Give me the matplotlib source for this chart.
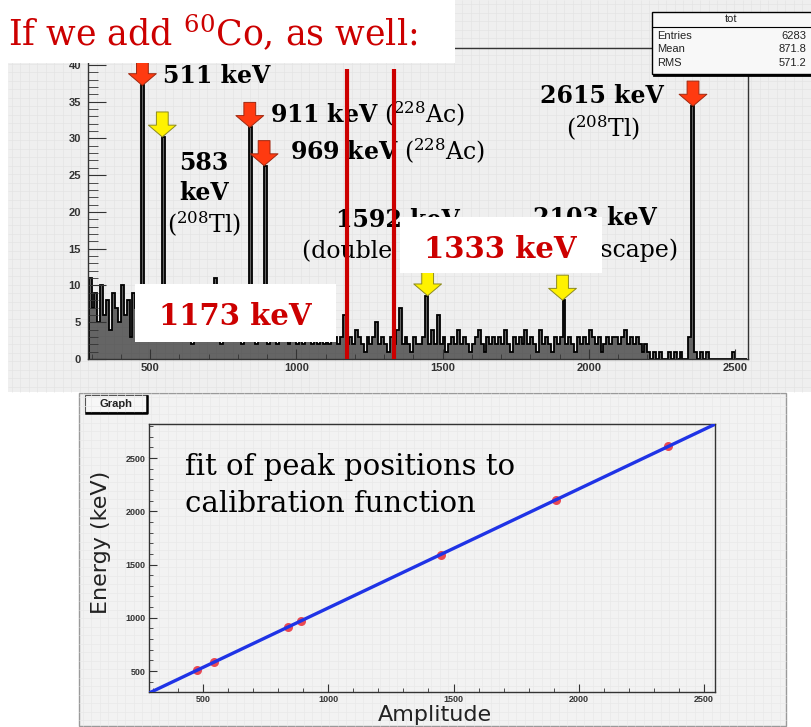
import matplotlib
matplotlib.use("Agg")

import  matplotlib.pyplot   as  plt
import  numpy               as  np
from    matplotlib.patches  import  Rectangle
from    matplotlib.ticker   import  MultipleLocator


##############################################################
###------------------------data----------------------------###
##############################################################

###-----------peaks_used_for_the_calibration---------------###
peak_energy     =   [511, 583, 911, 969, 1592, 2103, 2615]
peak_amplitude  =   [474, 542, 841, 890, 1449, 1910, 2356]
peak_counts     =   [37.2, 30.2, 31.5, 26.3, 8.6, 8.0, 34.4]

###------------------60Co_gamma_lines----------------------###
co60_energy     =   [1173, 1333]

###--------------spectrum_background_(10_per_bin)----------###
bin_start       =   290
bin_width       =   10
background      =   [
    11, 7, 9, 5, 10, 6, 8, 4, 9, 7,
    5, 10, 6, 8, 3, 9, 7, 4, 8, 6,
    9, 4, 7, 5, 8, 3, 6, 9, 4, 7,
    5, 3, 7, 4, 6, 2, 5, 8, 3, 4,
    6, 3, 5, 11, 4, 2, 5, 3, 6, 4,
    3, 5, 2, 4, 6, 3, 4, 2, 5, 3,
    4, 2, 5, 3, 2, 4, 3, 5, 2, 3,
    3, 2, 4, 2, 3, 5, 2, 3, 2, 4,
    2, 3, 2, 4, 3, 2, 3, 6, 2, 3,
    2, 4, 3, 2, 1, 3, 2, 3, 5, 2,
    3, 2, 1, 3, 2, 4, 7, 2, 3, 2,
    1, 3, 2, 2, 3, 3, 2, 4, 2, 6,
    2, 3, 1, 2, 3, 2, 4, 2, 3, 2,
    1, 2, 3, 4, 2, 1, 3, 2, 3, 2,
    3, 2, 4, 2, 1, 3, 2, 3, 2, 4,
    2, 3, 2, 1, 4, 2, 3, 2, 1, 3,
    2, 3, 4, 2, 3, 2, 1, 3, 2, 3,
    2, 4, 3, 2, 3, 1, 2, 3, 2, 3,
    3, 2, 3, 4, 2, 3, 2, 3, 2, 1,
    2, 1, 0, 1, 0, 1, 0, 0, 1, 0,
    1, 0, 1, 0, 0, 3, 0, 1, 0, 1,
    0, 1, 0, 0, 0, 0, 0, 0, 0, 0,
    1, 0, 0, 0, 0,
]

###-----------------------stat_box-------------------------###
hist_name       =   "tot"
stat_names      =   ["Entries", "Mean", "RMS"]
stat_values     =   ["6283", "871.8", "571.2"]


##############################################################
###----------------------helpers---------------------------###
##############################################################
W, H    =   812, 727

def frame(x0, y0, x1, y1):
    # pixel box (top-left origin) -> figure fraction rectangle
    return [x0 / W, 1 - y1 / H, (x1 - x0) / W, (y1 - y0) / H]

def root_ticks(ax, size):
    ax.tick_params(axis="both", which="both", direction="in", top=False, right=False,
                   labelsize=size, colors="#333333")
    for lbl in ax.get_xticklabels() + ax.get_yticklabels():
        lbl.set_fontweight("bold")
        lbl.set_family("Liberation Sans")
    for sp in ax.spines.values():
        sp.set_color("#333333")
        sp.set_linewidth(1.0)


plt.rcParams["mathtext.fontset"] = "dejavuserif"
fig     =   plt.figure(figsize=(W / 100, H / 100), dpi=100, facecolor="white")

###-------------------panel_backgrounds--------------------###
ax_bg   =   fig.add_axes([0, 0, 1, 1])
ax_bg.set_xlim(0, W)
ax_bg.set_ylim(H, 0)
ax_bg.axis("off")
ax_bg.add_patch(Rectangle((8, 0), 804, 392, fc="#efefef", ec="none"))
ax_bg.vlines(np.arange(12, 812, 8.5), 0, 392, color="#e4e4e4", lw=0.5)
ax_bg.hlines(np.arange(4, 392, 8.5), 8, 812, color="#e4e4e4", lw=0.5)
ax_bg.add_patch(Rectangle((79, 393), 707, 333, fc="#f2f2f2", ec="#9a9a9a", lw=1.0))
ax_bg.vlines(np.arange(83, 786, 8.5), 393, 726, color="#e9e9e9", lw=0.5)
ax_bg.hlines(np.arange(397, 726, 8.5), 79, 786, color="#e9e9e9", lw=0.5)

###---------------------Graph_button-----------------------###
ax_bg.add_patch(Rectangle((85, 395), 62, 17, fc="#f7f7f7", ec="#555555", lw=0.8))
ax_bg.plot([147, 147, 86], [396, 413, 413], color="black", lw=1.8)
ax_bg.text(116, 404, "Graph", ha="center", va="center", fontsize=8,
           fontweight="bold", family="Liberation Sans", color="#222222")


##############################################################
###-------------------spectrum_panel-----------------------###
##############################################################
counts  =   np.array(background, dtype=float)
edges   =   bin_start + bin_width * np.arange(len(counts) + 1)
for amp, h in zip(peak_amplitude, peak_counts):
    counts[int((amp - bin_start) // bin_width)] = h

ax_h    =   fig.add_axes(frame(88, 48, 748, 359))
ax_h.set_zorder(2)
ax_h.set_facecolor("none")
ax_h.stairs(counts, edges, fill=True, color="#111111", alpha=0.62, lw=0)
ax_h.stairs(counts, edges, color="black", lw=1.3)
ax_h.set_xlim(288, 2544)
ax_h.set_ylim(0, 42.3)
ax_h.set_xticks([500, 1000, 1500, 2000, 2500])
ax_h.set_yticks(np.arange(0, 45, 5))
ax_h.xaxis.set_minor_locator(MultipleLocator(100))
ax_h.yaxis.set_minor_locator(MultipleLocator(1))
root_ticks(ax_h, 8)
ax_h.tick_params(axis="y", which="major", length=13, pad=5)
ax_h.tick_params(axis="y", which="minor", length=7)
ax_h.tick_params(axis="x", which="major", length=7, pad=3)
ax_h.tick_params(axis="x", which="minor", length=3.5)


##############################################################
###-----------------calibration_panel----------------------###
##############################################################
ax_c    =   fig.add_axes(frame(149, 424, 715, 692))
ax_c.set_zorder(2)
ax_c.set_facecolor("none")
ax_c.set_xlim(284, 2544)
ax_c.set_ylim(303, 2820)

fit     =   np.polyfit(peak_amplitude, peak_energy, 1)
x_fit   =   np.array(ax_c.get_xlim())
ax_c.plot(peak_amplitude, peak_energy, "o", ms=6.5, color="#e8202a", alpha=0.8, mec="none", zorder=2)
ax_c.plot(x_fit, np.polyval(fit, x_fit), color="#1f33e6", lw=2.4, zorder=3)

ax_c.set_xticks([500, 1000, 1500, 2000, 2500])
ax_c.set_yticks([500, 1000, 1500, 2000, 2500])
ax_c.xaxis.set_minor_locator(MultipleLocator(100))
ax_c.yaxis.set_minor_locator(MultipleLocator(100))
root_ticks(ax_c, 6.5)
ax_c.tick_params(axis="both", which="major", length=6, pad=2.5)
ax_c.tick_params(axis="both", which="minor", length=3)
ax_c.set_xlabel("Amplitude", fontsize=16, color="#222222", va="top")
ax_c.set_ylabel("Energy (keV)", fontsize=16, color="#222222")
ax_c.xaxis.set_label_coords(0.505, -0.048)
ax_c.yaxis.set_label_coords(-0.068, 0.56)


##############################################################
###--------------------annotations-------------------------###
##############################################################
ax_ov   =   fig.add_axes([0, 0, 1, 1])
ax_ov.set_zorder(5)
ax_ov.set_xlim(0, W)
ax_ov.set_ylim(H, 0)
ax_ov.patch.set_alpha(0)
ax_ov.axis("off")

###---------------------peak_labels------------------------###
bold    =   dict(family="DejaVu Serif", fontweight="bold", fontsize=17, color="black",
                 va="baseline", zorder=2)
plain   =   dict(family="DejaVu Serif", fontsize=17, color="black", va="baseline", zorder=2)

ax_ov.text(163, 83, "511 keV", ha="left", **bold)
ax_ov.text(204, 170, "583", ha="center", **bold)
ax_ov.text(204, 200, "keV", ha="center", **bold)
ax_ov.text(204, 233, r"(${}^{208}$Tl)", ha="center", **plain)
ax_ov.text(270, 123, r"$\mathbf{911\ keV}$ (${}^{228}$Ac)", ha="left", **plain)
ax_ov.text(290, 160, r"$\mathbf{969\ keV}$ (${}^{228}$Ac)", ha="left", **plain)
ax_ov.text(398, 227, "1592 keV", ha="center", **bold)
ax_ov.text(397, 258, "(double escape)", ha="center", **plain)
ax_ov.text(595, 225, "2103 keV", ha="center", **bold)
ax_ov.text(588, 257, "(single escape)", ha="center", **plain)
ax_ov.text(602, 103, "2615 keV", ha="center", **bold)
ax_ov.text(603, 137, r"(${}^{208}$Tl)", ha="center", **plain)

###---------------------peak_arrows------------------------###
arrow_colors    =   ["red", "yellow", "red", "red", "yellow", "yellow", "red"]
arrow_fill      =   {"red": ("#ff3a10", "#a02810"), "yellow": ("#fff200", "#8c8a20")}
for amp, h, col in zip(peak_amplitude, peak_counts, arrow_colors):
    fc, ec  =   arrow_fill[col]
    ax_ov.annotate(
        "", xy=(amp, h), xycoords=ax_h.transData,
        xytext=(0, 18), textcoords="offset points", zorder=3,
        arrowprops=dict(arrowstyle="simple,head_length=0.85,head_width=2.0,tail_width=0.85",
                        mutation_scale=10, fc=fc, ec=ec, lw=0.7, shrinkA=0, shrinkB=0),
    )

###--------------------60Co_markers------------------------###
for e in co60_energy:
    ax_ov.plot([e, e], [0, 39.5], transform=ax_h.transData, color="#cc0000",
               lw=3.0, solid_capstyle="butt", zorder=4)

red_bold    =   dict(family="DejaVu Serif", fontweight="bold", fontsize=21,
                     color="#cc0000", ha="center", va="baseline", zorder=6)
ax_ov.add_patch(Rectangle((135, 284), 201, 58, fc="white", ec="none", zorder=5))
ax_ov.text(235, 325, f"{co60_energy[0]} keV", **red_bold)
ax_ov.add_patch(Rectangle((400, 217), 202, 56, fc="white", ec="none", zorder=5))
ax_ov.text(500, 258, f"{co60_energy[1]} keV", **red_bold)

###------------------------title---------------------------###
ax_ov.add_patch(Rectangle((0, 0), 455, 63, fc="white", ec="none", zorder=7))
ax_ov.text(8, 46, r"If we add ${}^{60}$Co, as well:", family="DejaVu Serif",
           fontsize=25, color="#cc0000", ha="left", va="baseline", zorder=8)

###-----------------------stat_box-------------------------###
ax_ov.add_patch(Rectangle((652, 12), 165, 62, fc="#f8f8f8", ec="black", lw=1.0, zorder=7))
ax_ov.plot([654, 812], [75, 75], color="black", lw=2.0, zorder=8)
ax_ov.plot([652, 812], [27, 27], color="black", lw=0.8, zorder=8)
stat_font   =   dict(family="Liberation Sans", fontsize=8, color="#222222", va="center", zorder=8)
ax_ov.text(731, 19, hist_name, ha="center", **stat_font)
for i, (name, val) in enumerate(zip(stat_names, stat_values)):
    ax_ov.text(657, 36 + 13.5 * i, name, ha="left", **stat_font)
    ax_ov.text(806, 36 + 13.5 * i, val, ha="right", **stat_font)

###---------------------fit_caption------------------------###
ax_ov.text(185, 475, "fit of peak positions to", family="DejaVu Serif",
           fontsize=21, color="black", ha="left", va="baseline")
ax_ov.text(185, 512, "calibration function", family="DejaVu Serif",
           fontsize=21, color="black", ha="left", va="baseline")

plt.savefig("out.png", dpi=100)
